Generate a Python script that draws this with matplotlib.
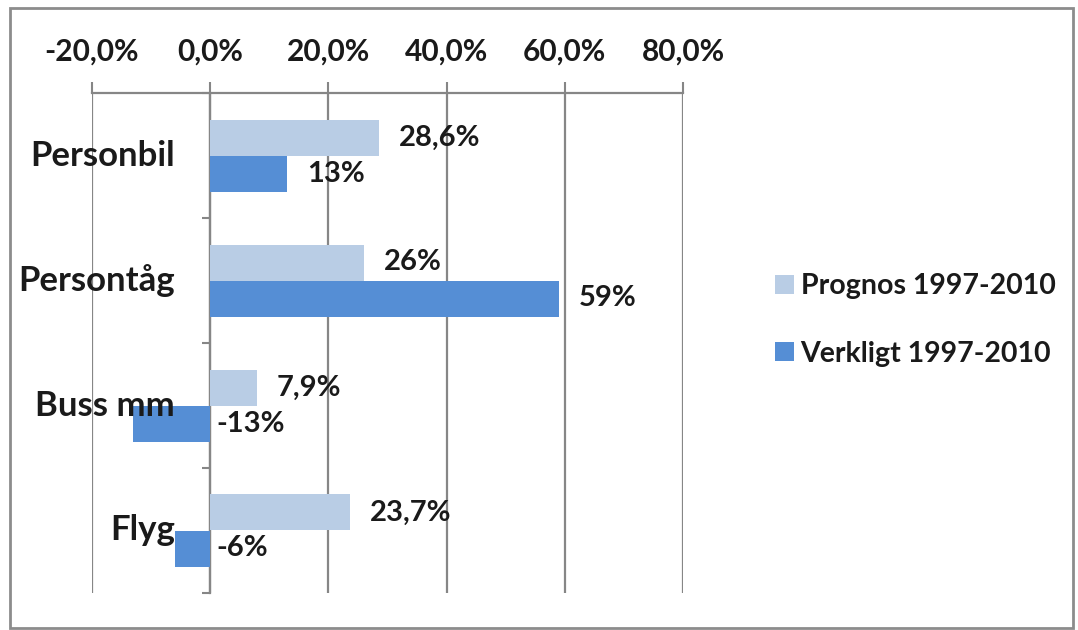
import matplotlib.pyplot as plt
import numpy as np
from matplotlib.patches import Rectangle
from matplotlib.ticker import FuncFormatter

plt.rcParams['font.family'] = ['Lato', 'DejaVu Sans']
plt.rcParams['font.weight'] = 'bold'

kategorier = ["Personbil", "Persontåg", "Buss mm", "Flyg"]
prognos = [28.6, 26, 7.9, 23.7]
verkligt = [13, 59, -13, -6]
prognos_etiketter = ["28,6%", "26%", "7,9%", "23,7%"]
verkligt_etiketter = ["13%", "59%", "-13%", "-6%"]
serie_namn = ["Prognos 1997-2010", "Verkligt 1997-2010"]

ljus = "#b9cde5"
mork = "#558ed5"
gra = "#868686"
txtfarg = "#1a1a1a"

fig = plt.figure(figsize=(10.78, 6.30), dpi=100)
ax = fig.add_axes([92/1078, 1-593/630, (683-92)/1078, (593-93)/630])
ax.set_axisbelow(True)

y = np.arange(len(kategorier))
h = 0.288
ax.barh(y - h/2, prognos, height=h, color=ljus, label=serie_namn[0], zorder=3)
ax.barh(y + h/2, verkligt, height=h, color=mork, label=serie_namn[1], zorder=3)

# dataetiketter
for i in range(len(kategorier)):
    for v, txt, dy in [(prognos[i], prognos_etiketter[i], -h/2), (verkligt[i], verkligt_etiketter[i], h/2)]:
        off = 20 if v > 0 else 6
        ax.annotate(txt, (max(v, 0), y[i] + dy), xytext=(off, 0), textcoords='offset pixels',
                    ha='left', va='center', fontsize=21, color=txtfarg, zorder=5)

# kategorinamn ovanpå staplarna
for i, namn in enumerate(kategorier):
    ax.annotate(namn, (0, y[i]), xytext=(-35, 0), textcoords='offset pixels',
                ha='right', va='center', fontsize=25, color=txtfarg, zorder=5)

ax.set_xlim(-20, 80)
ax.set_ylim(len(kategorier) - 0.5, -0.5)
ax.set_xticks(np.arange(-20, 81, 20))
ax.xaxis.set_major_formatter(FuncFormatter(lambda v, p: f"{v:.1f}%".replace(".", ",")))
ax.xaxis.tick_top()
ax.tick_params(axis='x', direction='out', length=8, width=1.5, color=gra, pad=12,
               labelsize=21.5, labelcolor=txtfarg)
ax.grid(axis='x', color=gra, linewidth=1.6)

ax.set_yticks(np.arange(-0.5, len(kategorier)), labels=[])
ax.tick_params(axis='y', direction='out', length=6, width=1.5, color=gra)

for s in ['right', 'bottom']:
    ax.spines[s].set_visible(False)
ax.spines['left'].set_position(('data', 0))
for s in ['left', 'top']:
    ax.spines[s].set_color(gra)
    ax.spines[s].set_linewidth(1.6)

fig.legend(loc='center left', bbox_to_anchor=(775/1078, 1-320/630), frameon=False,
           fontsize=20.5, handlelength=0.65, handleheight=0.65, handletextpad=0.25,
           labelspacing=1.45, borderpad=0, borderaxespad=0, labelcolor=txtfarg)

fig.patches.append(Rectangle((10/1078, 1-628/630), (1073-10)/1078, (628-8)/630,
                             transform=fig.transFigure, fill=False, edgecolor='#8c8c8c', linewidth=2))

fig.savefig("out.png", dpi=100)
